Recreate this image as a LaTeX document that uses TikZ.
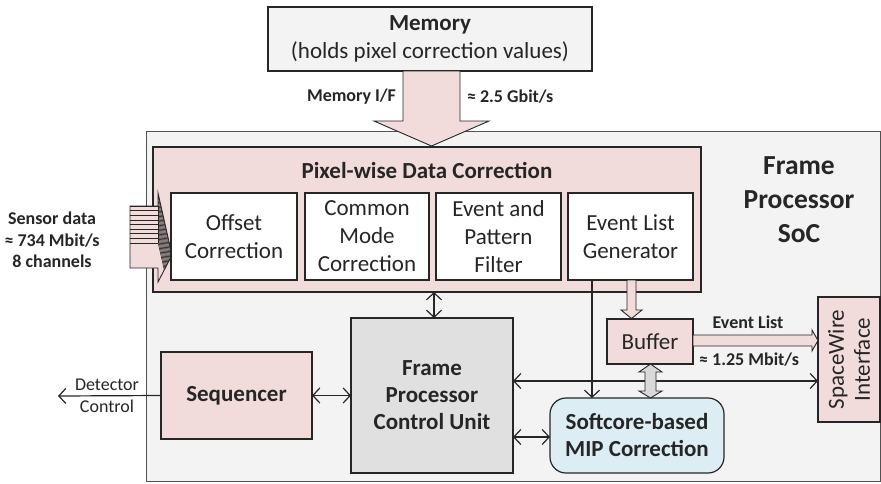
\documentclass[tikz,border=0pt]{standalone}
\usepackage{fontspec}
\setmainfont{Carlito}
\usetikzlibrary{arrows.meta,calc}
\definecolor{socfill}{HTML}{F3F3F3}
\definecolor{pinkfill}{HTML}{F2DCDB}
\definecolor{cufill}{HTML}{E0E0E0}
\definecolor{softfill}{HTML}{DCEEF4}
\definecolor{edge}{HTML}{262626}
\definecolor{arrfill}{HTML}{D9D9D9}
\begin{document}
\begin{tikzpicture}[x=1pt,y=-1pt,
  every node/.style={inner sep=0pt, outer sep=0pt, text=edge},
  blk/.style={draw=edge, line width=1.2pt, align=center, font=\fontsize{23}{28}\selectfont},
  bblk/.style={blk, font=\bfseries\fontsize{23}{27}\selectfont},
  lab/.style={font=\bfseries\fontsize{18}{21.5}\selectfont, align=center},
  conn/.style={draw=edge, line width=1.2pt},
  blockarr/.style={draw=edge, line width=0.9pt, fill=pinkfill, line join=miter},
  >={Straight Barb[length=7pt,width=15pt]}
]
\useasboundingbox (0,0) rectangle (881,483);
% outer SoC
\node[draw=edge!80, line width=1pt, fill=socfill, minimum width=734, minimum height=350] (soc) at (513,306) {};
\node[font=\bfseries\fontsize{27.5}{34}\selectfont, align=center] (socl) at (799,200) {Frame\\Processor\\SoC};
% memory
\node[blk, fill=socfill, minimum width=324, minimum height=64] (mem) at (430,39) {\textbf{Memory}\\(holds pixel correction values)};
% pixel-wise block
\node[draw=edge, line width=1.2pt, fill=pinkfill, minimum width=548, minimum height=145] (pix) at (427,219.5) {};
\node[font=\bfseries\fontsize{23}{27}\selectfont] (pixt) at (427,170) {Pixel-wise Data Correction};
% memory arrow
\draw[blockarr] (403,71) -- (460,71) -- (460,121) -- (489,121) -- (431.5,146) -- (374,121) -- (403,121) -- cycle;
\node[lab, anchor=east] (memif) at (396,97) {Memory I/F};
\node[lab, anchor=west] (memrate) at (467,97) {≈ 2.5 Gbit/s};
% sensor arrow
\draw[blockarr] (130,206) -- (158,206) -- (158,193) -- (172,255) -- (158,282) -- (158,268) -- (130,268) -- cycle;
\foreach \k in {0,...,8} \draw[edge, line width=0.6pt] (130,{206+4.6*\k}) -- (158,{206+4.6*\k});
\draw[edge, line width=0.6pt] (158,206) -- (158,243);
\begin{scope}
\clip (158,193) -- (172,255) -- (158,282) -- cycle;
\foreach \k in {0,...,10} \draw[edge, line width=0.6pt] (158,{196+4.6*\k}) -- ++(14,62);
\end{scope}
\node[lab] (sens) at (52,240) {Sensor data\\≈ 734 Mbit/s\\8 channels};
% inner boxes
\node[blk, fill=white, minimum width=126, minimum height=87] (off) at (234,236.5) {Offset\\Correction};
\node[blk, fill=white, minimum width=124, minimum height=87] (cmc) at (367,236.5) {Common\\Mode\\Correction};
\node[blk, fill=white, minimum width=125, minimum height=87] (epf) at (498.5,236.5) {Event and\\Pattern\\Filter};
\node[blk, fill=white, minimum width=125, minimum height=87] (elg) at (630.5,236.5) {Event List\\Generator};
% lower blocks
\node[bblk, fill=cufill, minimum width=162, minimum height=155] (cu) at (432,395.5) {Frame\\Processor\\Control Unit};
\node[bblk, fill=pinkfill, minimum width=151, minimum height=87] (seq) at (236.5,395.5) {Sequencer};
\node[blk, fill=pinkfill, minimum width=86, minimum height=45] (buf) at (650,341.5) {Buffer};
\node[blk, fill=pinkfill, minimum width=62, minimum height=125] (swbox) at (849,359.5) {};
\node[font=\fontsize{23}{26}\selectfont, align=center, rotate=90] (swt) at (swbox.center) {SpaceWire\\Interface};
\node[bblk, fill=softfill, rounded corners=16pt, minimum width=174, minimum height=75] (soft) at (637,435.5) {Softcore-based\\MIP Correction};
% connectors
\coordinate (det) at (58,396);
\draw[conn,->] (seq.west) -- (det);
\node[font=\fontsize{18}{22}\selectfont, align=center] (detl) at (107,396) {Detector\\Control};
\draw[conn,<->] (seq.east) -- (cu.west);
\coordinate (pcx) at (434,0);
\draw[conn,<->] (pix.south -| pcx) -- (cu.north -| pcx);
\coordinate (elx) at (592,0);
\draw[conn,->] (elg.south -| elx) -- (soft.north -| elx);
\coordinate (swy) at (0,381);
\draw[conn,<->] (cu.east |- swy) -- (swbox.west |- swy);
\coordinate (sfy) at (0,437);
\draw[conn,<->] (cu.east |- sfy) -- (soft.west |- sfy);
% block arrows
\draw[blockarr] (627,280) -- (636,280) -- (636,310) -- (642,310) -- (631.5,318.5) -- (621,310) -- (627,310) -- cycle;
\draw[blockarr] (693,335) -- (812,335) -- (812,330) -- (818,340.5) -- (812,351) -- (812,346) -- (693,346) -- cycle;
\draw[blockarr, fill=arrfill] (645,372) -- (639,372) -- (650.5,364) -- (662,372) -- (656,372) -- (656,391) -- (662,391) -- (650.5,398) -- (639,391) -- (645,391) -- cycle;
\node[lab] (evl) at (748,322) {Event List};
\node[lab] (evrate) at (749,360) {≈ 1.25 Mbit/s};
\end{tikzpicture}
\end{document}
